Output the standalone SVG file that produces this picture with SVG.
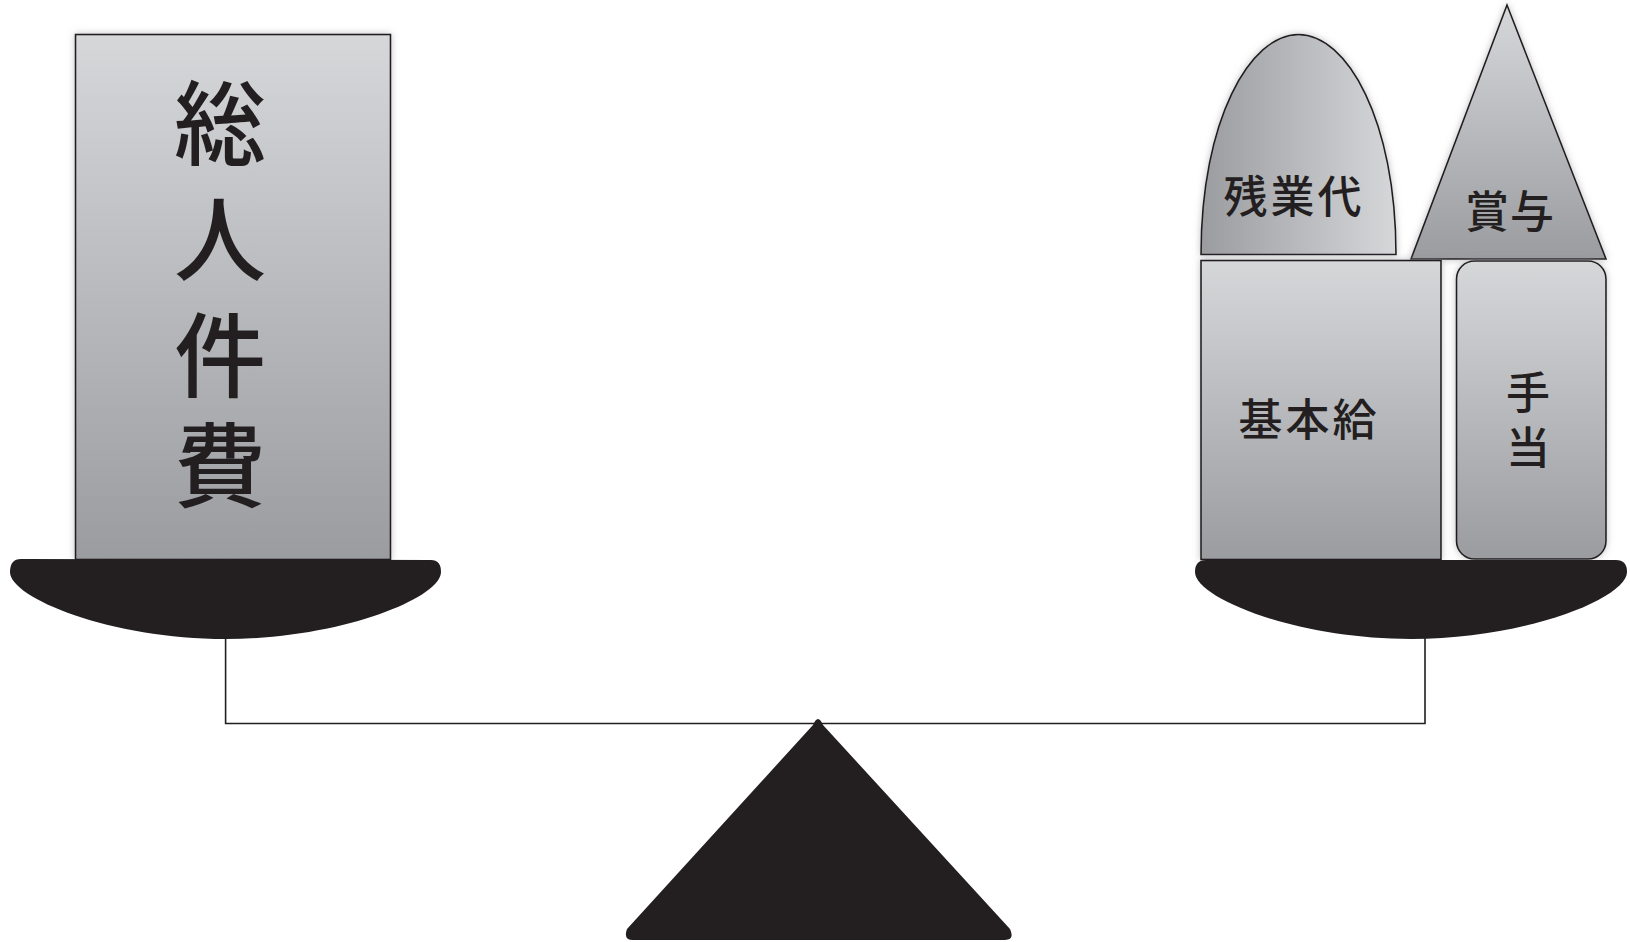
<svg xmlns="http://www.w3.org/2000/svg" width="1630" height="942" viewBox="0 0 1630 942">
<defs>
<linearGradient id="gV" x1="0" y1="0" x2="0" y2="1">
<stop offset="0" stop-color="#d6d7d9"/>
<stop offset="1" stop-color="#9b9ca0"/>
</linearGradient>
<linearGradient id="gH" x1="0" y1="0" x2="1" y2="0">
<stop offset="0" stop-color="#9b9ca0"/>
<stop offset="1" stop-color="#d6d7d9"/>
</linearGradient>
<filter id="sh" x="-10%" y="-10%" width="120%" height="120%">
<feDropShadow dx="0" dy="0" stdDeviation="3.5" flood-color="#8a8b8e" flood-opacity="0.55"/>
</filter>
<style>
.blk{fill:#231f20;stroke:none}
.box{stroke:#231f20;stroke-width:1.6;filter:url(#sh)}
.ln{fill:none;stroke:#231f20;stroke-width:1.6}
.t{font-family:"Noto Sans CJK JP","Noto Sans CJK SC",sans-serif;font-weight:500;fill:#231f20;text-anchor:middle}
.big{font-size:92px}
.sm{font-size:44px}
</style>
</defs>
<g id="connectors">
<polyline class="ln" points="225.6,630 225.6,723.5 1425,723.5 1425,630"/>
</g>
<g id="fulcrum">
<path class="blk" d="M813,725 Q818,713 823,725 L1010,929 Q1015,940 1005,940 L633,940 Q623,940 627,929 Z"/>
</g>
<g id="node-total">
<rect class="box" x="75.5" y="34.5" width="315" height="525" fill="url(#gV)"/>
<text class="t big" x="220" y="158">総</text>
<text class="t big" x="220" y="274">人</text>
<text class="t big" x="220" y="390">件</text>
<text class="t big" x="220" y="500">費</text>
</g>
<g id="pan-left">
<path class="blk" d="M21,559 L431,560 Q441,560 441,572 C441,598 340,639 225.6,639 C111,639 10,598 10,572 Q10,559 21,559 Z"/>
</g>
<g id="node-overtime">
<path class="box" d="M1201,254.5 C1201,120 1250,34.5 1298.5,34.5 C1347,34.5 1396,120 1396,254.5 Z" fill="url(#gH)"/>
<text class="t sm" letter-spacing="3" x="1294" y="213">残業代</text>
</g>
<g id="node-bonus">
<path class="box" d="M1507,5 L1606,259 L1411,259 Z" fill="url(#gV)"/>
<text class="t sm" letter-spacing="1" x="1510" y="228">賞与</text>
</g>
<g id="node-base">
<rect class="box" x="1201" y="260.5" width="240" height="299" fill="url(#gV)"/>
<text class="t sm" letter-spacing="3" x="1309" y="436">基本給</text>
</g>
<g id="node-allowance">
<rect class="box" x="1456.5" y="261" width="149.5" height="298" rx="18" ry="18" fill="url(#gV)"/>
<text class="t sm" x="1528" y="409">手</text>
<text class="t sm" x="1528" y="464">当</text>
</g>
<g id="pan-right">
<path class="blk" d="M1206,560 L1616,560 Q1627,560 1627,572 C1627,598 1526,639 1411,639 C1296,639 1195,598 1195,572 Q1195,560 1206,560 Z"/>
</g>
</svg>
